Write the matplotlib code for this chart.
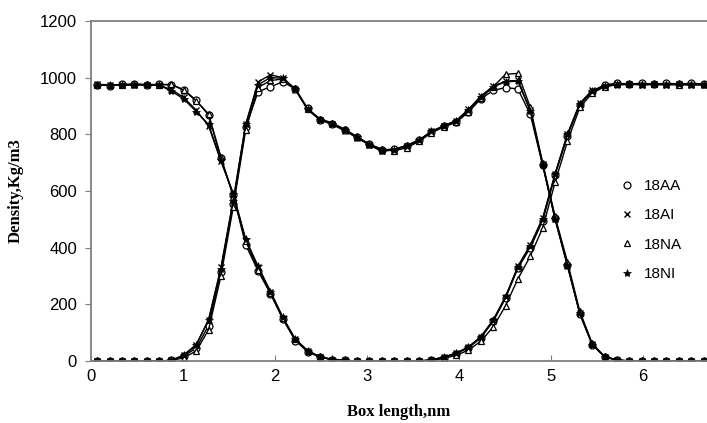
import numpy as np
import matplotlib
matplotlib.use("Agg")
import matplotlib.pyplot as plt

# density profiles along the box, 50 bins
box_length = 6.73
n_bins = 50
x = (np.arange(n_bins) + 0.5) * box_length / n_bins

labels = ["18AA", "18AI", "18NA", "18NI"]

# water-like phase (high at both ends)
aa_w = [975, 972, 976, 978, 975, 976, 975, 958, 920, 868,
        715, 585, 410, 318, 238, 148, 72, 33, 13, 5,
        2, 0, 0, 0, 0, 0, 0, 3, 12, 26,
        46, 82, 140, 222, 328, 400, 495, 655, 795, 905,
        950, 975, 980, 978, 980, 977, 980, 978, 980, 978]
ai_w = [976, 975, 974, 975, 974, 973, 958, 930, 885, 830,
        705, 590, 425, 330, 245, 152, 76, 36, 14, 5,
        2, 0, 0, 0, 0, 0, 0, 4, 13, 27,
        48, 84, 142, 225, 335, 410, 505, 660, 800, 910,
        955, 972, 976, 978, 975, 976, 975, 976, 974, 975]
na_w = [975, 974, 975, 976, 976, 975, 976, 955, 918, 872,
        720, 580, 425, 322, 240, 150, 76, 35, 14, 5,
        2, 0, 0, 0, 0, 0, 0, 2, 9, 20,
        38, 70, 120, 195, 290, 370, 470, 630, 775, 895,
        945, 968, 976, 977, 978, 976, 978, 975, 977, 976]
ni_w = [974, 975, 973, 974, 975, 974, 952, 925, 880, 835,
        708, 590, 430, 335, 245, 155, 78, 37, 15, 6,
        2, 0, 0, 0, 0, 0, 0, 4, 14, 28,
        50, 86, 145, 228, 332, 405, 500, 660, 800, 908,
        952, 970, 974, 976, 975, 976, 975, 976, 975, 975]

# other phase (middle of the box)
aa_o = [0, 0, 0, 0, 0, 0, 2, 18, 45, 125,
        315, 555, 825, 950, 968, 985, 960, 892, 852, 838,
        815, 790, 765, 745, 748, 760, 780, 808, 828, 845,
        880, 925, 955, 965, 960, 870, 690, 505, 340, 165,
        58, 14, 3, 0, 0, 0, 0, 0, 0, 0]
ai_o = [0, 0, 0, 0, 0, 0, 2, 20, 55, 145,
        330, 570, 835, 985, 1010, 1000, 958, 888, 850, 835,
        812, 788, 762, 740, 745, 758, 778, 810, 830, 848,
        888, 935, 970, 988, 990, 885, 695, 500, 335, 170,
        60, 15, 4, 0, 0, 0, 0, 0, 0, 0]
na_o = [0, 0, 0, 0, 0, 0, 1, 12, 35, 110,
        300, 545, 815, 965, 990, 995, 962, 890, 855, 840,
        818, 792, 765, 748, 742, 752, 775, 805, 826, 842,
        878, 928, 968, 1012, 1015, 895, 700, 510, 350, 175,
        62, 16, 4, 0, 0, 0, 0, 0, 0, 0]
ni_o = [0, 0, 0, 0, 0, 0, 2, 22, 58, 145,
        325, 565, 835, 975, 1000, 998, 960, 888, 852, 836,
        814, 790, 763, 742, 746, 760, 780, 810, 830, 848,
        886, 932, 968, 985, 988, 882, 692, 502, 338, 168,
        58, 15, 3, 0, 0, 0, 0, 0, 0, 0]

water = [aa_w, ai_w, na_w, ni_w]
other = [aa_o, ai_o, na_o, ni_o]

styles = [dict(marker="o", ms=5, mfc="white", mec="black", mew=0.9),
          dict(marker="x", ms=5, mec="black", mew=1.0),
          dict(marker="^", ms=5, mfc="white", mec="black", mew=0.9),
          dict(marker="*", ms=6, mfc="black", mec="black", mew=0.5)]

fig = plt.figure(figsize=(7.07, 4.23), dpi=100)
ax = fig.add_axes([0.1287, 0.1466, 0.8713, 0.8038])

for lab, w, o, st in zip(labels, water, other, styles):
    ax.plot(x, w, color="black", lw=1.0, **st)
    ax.plot(x, o, color="black", lw=1.0, **st)
    # legend handle: marker only
    ax.plot([], [], ls="none", color="black", label=lab, **st)

ax.set_xlim(0, 6.7)
ax.set_ylim(0, 1200)
ax.set_xticks([0, 1, 2, 3, 4, 5, 6])
ax.set_yticks(range(0, 1201, 200))

for s in ["left", "bottom", "top"]:
    ax.spines[s].set_color("#7f7f7f")
    ax.spines[s].set_linewidth(1.3)
ax.spines["right"].set_visible(False)

ax.tick_params(axis="y", direction="out", length=4, color="#7f7f7f",
               labelsize=12, pad=6)
ax.tick_params(axis="x", direction="in", length=4, color="#7f7f7f",
               labelsize=12, pad=6)
for t in ax.get_xticklabels() + ax.get_yticklabels():
    t.set_family("Liberation Sans")

ax.set_xlabel("Box length,nm", family="Liberation Serif", fontweight="bold",
              fontsize=12, labelpad=14)
ax.set_ylabel("Density,Kg/m3", family="Liberation Serif", fontweight="bold",
              fontsize=12, labelpad=12)

handles, labs = ax.get_legend_handles_labels()
leg = ax.legend(handles[-4:], labs[-4:], loc="center left",
                bbox_to_anchor=(0.835, 0.385), frameon=False,
                prop={"family": "Liberation Sans", "size": 11},
                labelspacing=1.0, handletextpad=0.6, handlelength=1.0)

fig.savefig("out.png", dpi=100)
